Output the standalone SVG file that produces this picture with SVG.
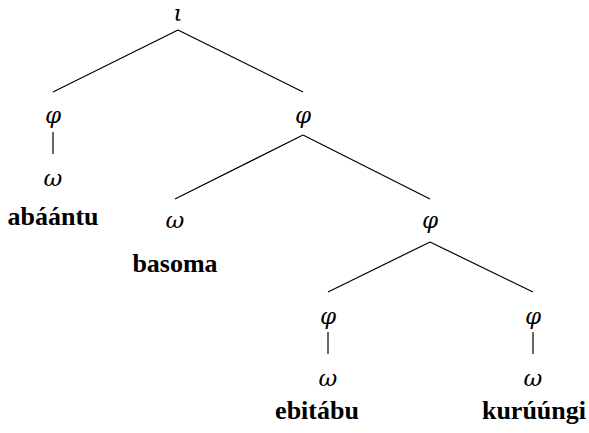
<svg xmlns="http://www.w3.org/2000/svg" width="589" height="433" viewBox="0 0 589 433">
<style>
.g{font-family:"DejaVu Serif","Liberation Serif",serif;font-style:italic;font-size:23px;fill:#000;text-anchor:middle}
.w{font-family:"Liberation Serif","Times New Roman",serif;font-weight:bold;font-size:26px;fill:#000;text-anchor:middle}
.e{stroke:#000;stroke-width:1.2;fill:none}
</style>
<rect width="589" height="433" fill="#fff"/>
<g id="connectors">
<line class="e" x1="178" y1="30" x2="53" y2="92"/>
<line class="e" x1="178" y1="30" x2="303" y2="92"/>
<line class="e" x1="53" y1="132" x2="53" y2="154"/>
<line class="e" x1="303" y1="135" x2="175" y2="199"/>
<line class="e" x1="303" y1="135" x2="430" y2="199"/>
<line class="e" x1="430" y1="242" x2="328" y2="292"/>
<line class="e" x1="430" y1="242" x2="533" y2="292"/>
<line class="e" x1="328" y1="332" x2="328" y2="354"/>
<line class="e" x1="533" y1="332" x2="533" y2="354"/>
</g>
<g id="iota"><text class="g" x="178" y="21">ι</text></g>
<g id="phi1"><text class="g" x="53" y="123">φ</text></g>
<g id="omega1"><text class="g" x="53" y="186">ω</text><text class="w" x="53" y="225">abáántu</text></g>
<g id="phi2"><text class="g" x="303" y="123">φ</text></g>
<g id="omega2"><text class="g" x="175" y="228">ω</text><text class="w" x="175" y="272">basoma</text></g>
<g id="phi3"><text class="g" x="430" y="228">φ</text></g>
<g id="phi4"><text class="g" x="328" y="324">φ</text></g>
<g id="omega4"><text class="g" x="328" y="386">ω</text><text class="w" x="317" y="419">ebitábu</text></g>
<g id="phi5"><text class="g" x="533" y="324">φ</text></g>
<g id="omega5"><text class="g" x="533" y="386">ω</text><text class="w" x="534" y="419">kurúúngi</text></g>
</svg>
